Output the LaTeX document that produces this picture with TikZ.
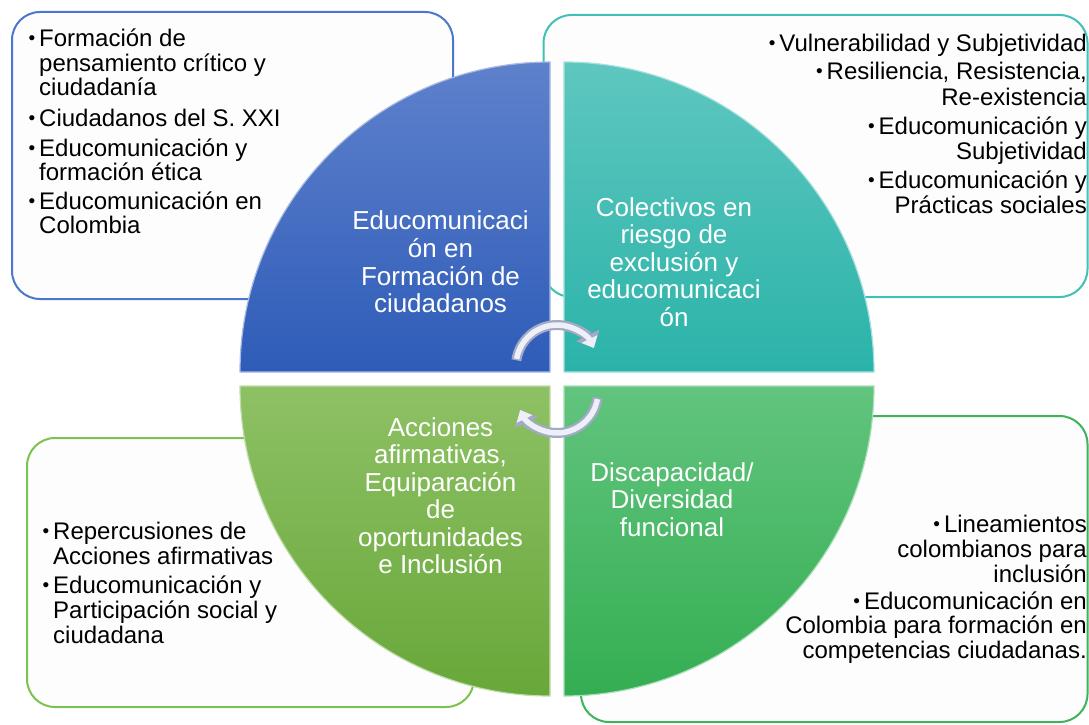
\documentclass[tikz,border=0pt]{standalone}
\usepackage{fontspec}
\setmainfont{Liberation Sans}
\usetikzlibrary{arrows.meta}
\definecolor{qTLt}{HTML}{5F81CC}
\definecolor{qTLb}{HTML}{2E5CB8}
\definecolor{qTRt}{HTML}{5EC7BF}
\definecolor{qTRb}{HTML}{2BB3A9}
\definecolor{qBLt}{HTML}{8EC165}
\definecolor{qBLb}{HTML}{68A739}
\definecolor{qBRt}{HTML}{62C47E}
\definecolor{qBRb}{HTML}{34AE52}
\definecolor{bTL}{HTML}{4C78CC}
\definecolor{bTR}{HTML}{3FC1B5}
\definecolor{bBL}{HTML}{7CC24F}
\definecolor{bBR}{HTML}{3DB35B}
\definecolor{arrOut}{HTML}{A3A9C6}
\definecolor{arrIn}{HTML}{EEF0F7}
\definecolor{boxfill}{HTML}{FDFDFD}
\newcommand{\bul}{\raisebox{2pt}{\fontsize{19}{19}\selectfont •}}
\tikzset{
  infobox/.style={line width=2pt, rounded corners=28pt, fill=boxfill},
  qtext/.style={anchor=base, inner sep=0pt, text=white, font=\fontsize{26}{28}\selectfont},
  ltext/.style={anchor=base west, inner sep=0pt, font=\fontsize{24}{24}\selectfont},
  rtext/.style={anchor=base east, inner sep=0pt, font=\fontsize{24}{24}\selectfont},
  quad/.style={line width=1.2pt},
  arrowback/.style={line width=10pt, draw=arrOut, -{Triangle[length=14pt,width=25pt]}},
  arrowfront/.style={line width=5.5pt, draw=arrIn, -{Triangle[length=10pt,width=17pt]}},
}
\begin{document}
\begin{tikzpicture}[x=1pt,y=-1pt]
\useasboundingbox (0,0) rectangle (1089,725);
\fill[white] (0,0) rectangle (1089,725);

% info boxes
\draw[infobox, draw=bTL] (12,12) rectangle (453,299);
\draw[infobox, draw=bTR] (543.5,15) rectangle (1087.5,297);
\draw[infobox, draw=bBL] (27,438) rectangle (474,707);
\draw[infobox, draw=bBR] (581,416) rectangle (1087.5,722);

% TL box text
\node[ltext] (a1) at (39,47) {\llap{\bul\hspace{4pt}}Formación de};
\node[ltext] (a2) at (39,71) {pensamiento crítico y};
\node[ltext] (a3) at (39,95) {ciudadanía};
\node[ltext] (a4) at (39,126) {\llap{\bul\hspace{4pt}}Ciudadanos del S. XXI};
\node[ltext] (a5) at (39,156) {\llap{\bul\hspace{4pt}}Educomunicación y};
\node[ltext] (a6) at (39,180) {formación ética};
\node[ltext] (a7) at (39,209) {\llap{\bul\hspace{4pt}}Educomunicación en};
\node[ltext] (a8) at (39,233) {Colombia};

% TR box text
\node[rtext] (b1) at (1087,52) {\bul\hspace{4pt}Vulnerabilidad y Subjetividad};
\node[rtext] (b2) at (1087,80) {\bul\hspace{4pt}Resiliencia, Resistencia,};
\node[rtext] (b3) at (1087,105) {Re-existencia};
\node[rtext] (b4) at (1087,134) {\bul\hspace{4pt}Educomunicación y};
\node[rtext] (b5) at (1087,159) {Subjetividad};
\node[rtext] (b6) at (1087,188) {\bul\hspace{4pt}Educomunicación y};
\node[rtext] (b7) at (1087,213) {Prácticas sociales};

% BL box text
\node[ltext] (c1) at (53,539) {\llap{\bul\hspace{4pt}}Repercusiones de};
\node[ltext] (c2) at (53,564) {Acciones afirmativas};
\node[ltext] (c3) at (53,593) {\llap{\bul\hspace{4pt}}Educomunicación y};
\node[ltext] (c4) at (53,618) {Participación social y};
\node[ltext] (c5) at (53,643) {ciudadana};

% BR box text
\node[rtext] (d1) at (1087,532) {\bul\hspace{4pt}Lineamientos};
\node[rtext] (d2) at (1087,557) {colombianos para};
\node[rtext] (d3) at (1087,582) {inclusión};
\node[rtext] (d4) at (1087,609) {\bul\hspace{4pt}Educomunicación en};
\node[rtext] (d5) at (1087,633) {Colombia para formación en};
\node[rtext] (d6) at (1087,658) {competencias ciudadanas.};

% quadrants
\shadedraw[quad, top color=qTLt, bottom color=qTLb, draw=qTLt!55!white]
  (550,372) -- (240,372) arc[start angle=180, end angle=270, radius=310] -- cycle;
\shadedraw[quad, top color=qTRt, bottom color=qTRb, draw=qTRt!55!white]
  (564,372) -- (564,62) arc[start angle=270, end angle=360, radius=310] -- cycle;
\shadedraw[quad, top color=qBLt, bottom color=qBLb, draw=qBLt!55!white]
  (550,386) -- (240,386) arc[start angle=180, end angle=90, radius=310] -- cycle;
\shadedraw[quad, top color=qBRt, bottom color=qBRb, draw=qBRt!55!white]
  (564,386) -- (874,386) arc[start angle=0, end angle=90, radius=310] -- cycle;

% quadrant titles
\foreach \t [count=\i] in {Educomunicaci,ón en,Formación de,ciudadanos}
  \node[qtext] (qa\i) at (440.5,{229.8+27.7*(\i-1)}) {\t};
\foreach \t [count=\i] in {Colectivos en,riesgo de,exclusión y,educomunicaci,ón}
  \node[qtext] (qb\i) at (674,{216+27.5*(\i-1)}) {\t};
\foreach \t [count=\i] in {Acciones,{afirmativas,},Equiparación,de,oportunidades,e Inclusión}
  \node[qtext] (qc\i) at (440.5,{436+27.5*(\i-1)}) {\t};
\foreach \t [count=\i] in {Discapacidad/,Diversidad,funcional}
  \node[qtext] (qd\i) at (672,{481+27.5*(\i-1)}) {\t};

% circular arrows
\coordinate (ca) at (557,366);
\coordinate (cb) at (557,392);
\draw[arrowback] ([shift={(188:41)}]ca) arc[start angle=188, end angle=334, radius=41];
\draw[arrowfront] ([shift={(190:41)}]ca) arc[start angle=190, end angle=334, radius=41];
\draw[arrowback] ([shift={(8:41)}]cb) arc[start angle=8, end angle=154, radius=41];
\draw[arrowfront] ([shift={(10:41)}]cb) arc[start angle=10, end angle=154, radius=41];
\end{tikzpicture}
\end{document}
